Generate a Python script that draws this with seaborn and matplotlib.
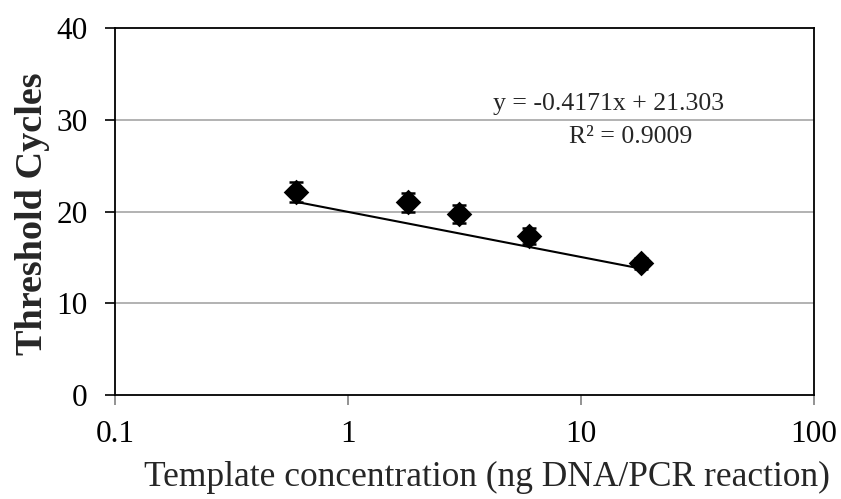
import matplotlib
matplotlib.use("Agg")
import matplotlib.pyplot as plt
import seaborn as sns
import numpy as np
import pandas as pd

# Data
concentration = [0.6, 1.8, 3.0, 6.0, 18.0]
threshold_cycles = [22.1, 21.0, 19.75, 17.35, 14.35]
error = [1.1, 1.05, 1.0, 0.9, 0.6]
slope = -0.4171
intercept = 21.303
r_squared = 0.9009
x_ticks = [0.1, 1, 10, 100]
x_tick_labels = ["0.1", "1", "10", "100"]
y_ticks = [0, 10, 20, 30, 40]

sns.set_theme(style="white")
plt.rcParams['font.family'] = ['Liberation Serif', 'DejaVu Serif']

df = pd.DataFrame({"x": concentration, "y": threshold_cycles, "err": error})
trend_x = [min(concentration), max(concentration)]
trend_df = pd.DataFrame({"x": trend_x, "y": [slope * v + intercept for v in trend_x]})

fig = plt.figure(figsize=(8.41, 4.99), dpi=100)
ax = fig.add_axes([0.137, 0.208, 0.831, 0.736])

ax.set_xscale("log")
ax.set_xlim(0.1, 100)
ax.set_ylim(0, 40)

for yv in y_ticks[1:-1]:
    ax.axhline(yv, color="#a6a6a6", lw=1.2, zorder=0)

sns.lineplot(data=trend_df, x="x", y="y", ax=ax, color="black", lw=1.5, zorder=2)
ax.errorbar(df["x"], df["y"], yerr=df["err"], fmt="none", ecolor="black",
            elinewidth=1.8, capsize=5, capthick=1.8, zorder=3)
sns.scatterplot(data=df, x="x", y="y", ax=ax, marker="D", s=170, color="black",
                edgecolor="black", linewidth=0, zorder=4)

ax.set_xticks(x_ticks)
ax.set_xticklabels(x_tick_labels)
ax.xaxis.set_minor_locator(matplotlib.ticker.NullLocator())
ax.set_yticks(y_ticks)
ax.tick_params(axis="both", which="major", labelsize=22.5, direction="out",
               length=7, width=1.2, color="#808080", labelcolor="black", bottom=True, left=True)
ax.tick_params(axis="y", color="black", pad=13)
ax.tick_params(axis="x", pad=11)

for s in ax.spines.values():
    s.set_color("black")
    s.set_linewidth(1.3)
    s.set_visible(True)

ax.set_xlabel("Template concentration (ng DNA/PCR reaction)", fontsize=25.5)
ax.set_ylabel("Threshold Cycles", fontsize=27.5, fontweight="bold")
ax.xaxis.set_label_coords(0.532, -0.18)
ax.yaxis.set_label_coords(-0.094, 0.495)

ax.text(609 / 841, 1 - 104 / 499, f"y = {slope}x + {intercept}", transform=fig.transFigure,
        ha="center", va="center", fontsize=18.5)
ax.text(631 / 841, 1 - 137 / 499, f"R² = {r_squared}", transform=fig.transFigure,
        ha="center", va="center", fontsize=18.5)

fig.savefig("out.png", dpi=100)
